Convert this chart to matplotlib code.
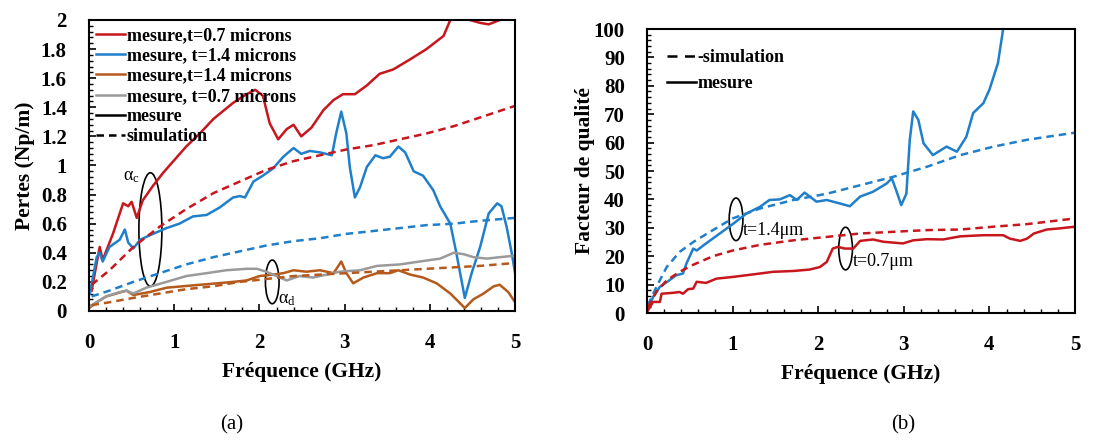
import matplotlib
matplotlib.use('Agg')
import matplotlib.pyplot as plt
from matplotlib.patches import Ellipse
from matplotlib.ticker import MultipleLocator, FuncFormatter

plt.rcParams['font.family'] = ['Liberation Serif', 'DejaVu Serif']
plt.rcParams['font.weight'] = 'bold'
plt.rcParams['mathtext.fontset'] = 'stix'

RED = '#c8161d'
BLUE = '#1f7fcb'
BROWN = '#b55a1c'
GRAY = '#9a9a9a'

# ---- (a) pertes ----
f_red = [0.03, 0.125, 0.16, 0.28, 0.4, 0.46, 0.5, 0.56, 0.63, 0.75, 0.87, 0.99, 1.14, 1.3, 1.46, 1.69, 1.85,
         1.95, 2.04, 2.12, 2.22, 2.32, 2.4, 2.49, 2.61, 2.75, 2.87, 2.98, 3.12, 3.26, 3.41, 3.57, 3.77, 3.96,
         4.16, 4.24, 4.32, 4.4, 4.47, 4.59, 4.69, 4.82, 4.9, 5.0]
p_red = [0.14, 0.44, 0.35, 0.53, 0.74, 0.72, 0.75, 0.64, 0.76, 0.86, 0.95, 1.03, 1.13, 1.22, 1.32, 1.43, 1.49,
         1.52, 1.48, 1.29, 1.18, 1.25, 1.28, 1.2, 1.26, 1.38, 1.45, 1.49, 1.49, 1.55, 1.63, 1.66, 1.73, 1.8,
         1.89, 2.0, 2.08, 2.06, 2.0, 1.98, 1.97, 2.0, 2.03, 2.05]

f_blue = [0.01, 0.09, 0.125, 0.16, 0.24, 0.36, 0.42, 0.46, 0.52, 0.6, 0.75, 0.91, 1.06, 1.22, 1.38, 1.53, 1.69,
          1.77, 1.83, 1.93, 2.04, 2.16, 2.28, 2.4, 2.49, 2.59, 2.71, 2.85, 2.9, 2.96, 3.02, 3.06, 3.12, 3.18,
          3.26, 3.36, 3.45, 3.53, 3.63, 3.71, 3.81, 3.92, 4.04, 4.12, 4.24, 4.31, 4.41, 4.49, 4.59, 4.69, 4.79,
          4.84, 4.9, 4.96, 5.0]
p_blue = [0.12, 0.37, 0.4, 0.34, 0.44, 0.49, 0.56, 0.47, 0.43, 0.49, 0.53, 0.57, 0.6, 0.65, 0.66, 0.71, 0.78,
          0.79, 0.78, 0.89, 0.93, 0.98, 1.06, 1.12, 1.08, 1.1, 1.09, 1.07, 1.22, 1.37, 1.22, 0.99, 0.78, 0.85,
          0.99, 1.07, 1.05, 1.06, 1.13, 1.09, 0.96, 0.93, 0.83, 0.72, 0.6, 0.4, 0.09, 0.26, 0.44, 0.67, 0.74,
          0.72, 0.58, 0.4, 0.26]

f_brown = [0.0, 0.09, 0.2, 0.32, 0.44, 0.52, 0.71, 0.91, 1.1, 1.3, 1.5, 1.69, 1.85, 2.0, 2.16, 2.28, 2.4, 2.55,
           2.71, 2.87, 2.96, 3.02, 3.1, 3.22, 3.38, 3.53, 3.63, 3.77, 3.92, 4.08, 4.24, 4.36, 4.41, 4.51, 4.63,
           4.75, 4.82, 4.92, 5.0]
p_brown = [0.02, 0.06, 0.1, 0.12, 0.14, 0.11, 0.13, 0.16, 0.17, 0.18, 0.19, 0.2, 0.21, 0.24, 0.25, 0.26, 0.28,
           0.27, 0.28, 0.26, 0.34, 0.26, 0.19, 0.23, 0.26, 0.26, 0.28, 0.25, 0.23, 0.19, 0.12, 0.05, 0.02, 0.08,
           0.12, 0.17, 0.18, 0.13, 0.06]

f_gray = [0.0, 0.09, 0.2, 0.36, 0.44, 0.52, 0.67, 0.91, 1.14, 1.38, 1.61, 1.85, 1.97, 2.08, 2.2, 2.32, 2.47,
          2.63, 2.79, 2.94, 3.18, 3.38, 3.65, 3.88, 4.12, 4.28, 4.4, 4.51, 4.67, 4.82, 5.0]
p_gray = [0.03, 0.06, 0.1, 0.13, 0.14, 0.12, 0.16, 0.2, 0.24, 0.26, 0.28, 0.29, 0.29, 0.27, 0.24, 0.21, 0.24,
          0.23, 0.25, 0.27, 0.28, 0.31, 0.32, 0.34, 0.36, 0.4, 0.39, 0.37, 0.36, 0.37, 0.38]

f_sim = [0.03, 0.24, 0.52, 0.83, 1.14, 1.46, 1.77, 2.08, 2.4, 2.71, 3.02, 3.34, 3.65, 3.96, 4.28, 4.59, 5.0]
p_sim_red = [0.18, 0.28, 0.44, 0.58, 0.7, 0.81, 0.89, 0.97, 1.03, 1.07, 1.11, 1.14, 1.18, 1.22, 1.27, 1.33, 1.41]
p_sim_blue = [0.1, 0.14, 0.2, 0.26, 0.32, 0.37, 0.41, 0.45, 0.48, 0.5, 0.53, 0.55, 0.57, 0.59, 0.6, 0.62, 0.64]
p_sim_brown = [0.04, 0.06, 0.09, 0.12, 0.15, 0.17, 0.2, 0.22, 0.24, 0.25, 0.26, 0.27, 0.28, 0.29, 0.3, 0.31, 0.33]

# ---- (b) facteur de qualite ----
f_q14 = [0.01, 0.07, 0.15, 0.26, 0.34, 0.42, 0.46, 0.54, 0.58, 0.69, 0.85, 1.01, 1.16, 1.32, 1.43, 1.55, 1.67,
         1.75, 1.84, 1.98, 2.1, 2.25, 2.37, 2.49, 2.64, 2.8, 2.86, 2.91, 2.97, 3.03, 3.07, 3.11, 3.17, 3.23,
         3.34, 3.5, 3.62, 3.73, 3.81, 3.93, 4.0, 4.1, 4.16, 4.18]
q14 = [1, 5.6, 9.2, 11.5, 13.3, 13.9, 17.4, 22.7, 22, 24.5, 28, 31.5, 35, 37.4, 39.8, 40, 41.5,
       39.8, 42.4, 39.2, 39.8, 38.6, 37.6, 41, 42.7, 45.6, 47.4, 43.3, 38, 42, 61, 71, 68, 59.8,
       55.6, 58.6, 56.8, 62, 70.4, 73.9, 78.6, 88, 99.8, 103]

f_q07 = [0.0, 0.07, 0.15, 0.17, 0.3, 0.38, 0.42, 0.48, 0.54, 0.58, 0.69, 0.81, 1.0, 1.24, 1.47, 1.71, 1.9, 2.02,
         2.1, 2.17, 2.23, 2.31, 2.41, 2.49, 2.64, 2.76, 2.99, 3.11, 3.27, 3.46, 3.66, 3.93, 4.16, 4.24, 4.36,
         4.44, 4.52, 4.67, 4.82, 5.0]
q07 = [0.4, 3.9, 3.9, 6.8, 7.1, 7.4, 6.8, 8.4, 8.6, 11, 10.6, 12.1, 12.7, 13.6, 14.5, 14.8, 15.3, 16.2,
       18, 22.7, 23.3, 22.7, 22.7, 25.4, 25.9, 25.1, 24.5, 25.6, 26, 25.9, 27, 27.4, 27.4, 26.2, 25.4,
       26.2, 28, 29.4, 29.8, 30.4]

f_qsim = [0.01, 0.11, 0.23, 0.38, 0.54, 0.77, 1.0, 1.32, 1.71, 2.1, 2.49, 2.88, 3.27, 3.66, 4.05, 4.44, 5.0]
q14_sim = [2.7, 9.2, 16.2, 21.5, 25, 29.2, 33.3, 36.8, 39.8, 42, 45, 48, 51.5, 55.6, 58.6, 61, 63.5]
q07_sim = [2, 7.5, 11.5, 14.5, 17, 20, 22, 24, 25.6, 26.8, 28, 28.6, 29.2, 29.4, 30.4, 31.3, 33.3]

fig = plt.figure(figsize=(11.2, 4.41), dpi=100)
ax1 = fig.add_axes([0.0795, 0.2948, 0.3804, 0.6599])
ax2 = fig.add_axes([0.5777, 0.2902, 0.3821, 0.644])

lw = 1.8
dash = (0, (3, 2))
ax1.plot(f_red, p_red, color=RED, lw=lw, label='mesure,t=0.7 microns')
ax1.plot(f_blue, p_blue, color=BLUE, lw=lw, label='mesure, t=1.4 microns')
ax1.plot(f_brown, p_brown, color=BROWN, lw=lw, label='mesure,t=1.4 microns')
ax1.plot(f_gray, p_gray, color=GRAY, lw=lw, label='mesure, t=0.7 microns')
ax1.plot([], [], color='black', lw=lw, label='mesure')
ax1.plot([], [], color='black', lw=lw, ls=dash, label='simulation')
ax1.plot(f_sim, p_sim_red, color=RED, lw=lw, ls=dash)
ax1.plot(f_sim, p_sim_blue, color=BLUE, lw=lw, ls=dash)
ax1.plot(f_sim, p_sim_brown, color=BROWN, lw=lw, ls=dash)

ax1.add_patch(Ellipse((0.72, 0.56), 0.27, 0.78, fill=False, ec='black', lw=1.2))
ax1.add_patch(Ellipse((2.15, 0.2), 0.16, 0.3, fill=False, ec='black', lw=1.2))
ax1.text(0.4, 0.9, r'$\mathregular{\alpha_c}$', fontsize=13, fontweight='normal')
ax1.text(2.22, 0.05, r'$\mathregular{\alpha_d}$', fontsize=13, fontweight='normal')

ax1.set_xlim(0, 5)
ax1.set_ylim(0, 2)
ax1.yaxis.set_major_locator(MultipleLocator(0.2))
ax1.yaxis.set_minor_locator(MultipleLocator(0.04))
ax1.xaxis.set_minor_locator(MultipleLocator(0.2))
ax1.yaxis.set_major_formatter(FuncFormatter(lambda v, p: '%g' % round(v, 2)))
ax1.set_xlabel('Fréquence (GHz)', fontsize=15.5, fontweight='bold', labelpad=6)
ax1.set_ylabel('Pertes (Np/m)', fontsize=15.5, fontweight='bold', labelpad=4)
ax1.legend(loc='upper left', frameon=False, fontsize=13, handlelength=1.6, handletextpad=0.1,
           labelspacing=0.18, borderaxespad=0.1, borderpad=0.3)

ax2.plot(f_q14, q14, color=BLUE, lw=lw)
ax2.plot(f_q07, q07, color=RED, lw=lw)
ax2.plot(f_qsim, q14_sim, color=BLUE, lw=lw, ls=dash)
ax2.plot(f_qsim, q07_sim, color=RED, lw=lw, ls=dash)
ax2.plot([], [], color='black', lw=lw, ls=(0, (4, 3)), label='-simulation')
ax2.plot([], [], color='black', lw=lw, label='mesure')
ax2.add_patch(Ellipse((1.04, 33), 0.16, 15, fill=False, ec='black', lw=1.2))
ax2.add_patch(Ellipse((2.32, 22.7), 0.16, 15, fill=False, ec='black', lw=1.2))
ax2.text(1.12, 29, 't=1.4μm', fontsize=13, fontweight='normal', va='center')
ax2.text(2.41, 18, 't=0.7μm', fontsize=13, fontweight='normal', va='center')

ax2.set_xlim(0, 5)
ax2.set_ylim(0, 100)
ax2.yaxis.set_major_locator(MultipleLocator(10))
ax2.yaxis.set_minor_locator(MultipleLocator(2))
ax2.xaxis.set_minor_locator(MultipleLocator(0.2))
ax2.set_xlabel('Fréquence (GHz)', fontsize=15.5, fontweight='bold', labelpad=6)
ax2.set_ylabel('Facteur de qualité', fontsize=15.5, fontweight='bold', labelpad=-1)
ax2.legend(loc='upper left', frameon=False, fontsize=13, handlelength=1.6, handletextpad=0.1,
           labelspacing=0.5, borderaxespad=0.6, borderpad=0.5)

for ax in (ax1, ax2):
    for s in ax.spines.values():
        s.set_linewidth(1.5)
    ax.tick_params(which='both', direction='in', labelsize=15, pad=16)
    ax.tick_params(which='major', length=5, width=1.2)
    ax.tick_params(which='minor', length=3, width=1.0)
    for lab in ax.get_xticklabels() + ax.get_yticklabels():
        lab.set_fontweight('bold')

fig.text(0.207, 0.025, '(a)', fontsize=15, fontweight='normal', ha='center')
fig.text(0.806, 0.025, '(b)', fontsize=15, fontweight='normal', ha='center')

fig.savefig('out.png', dpi=100)
